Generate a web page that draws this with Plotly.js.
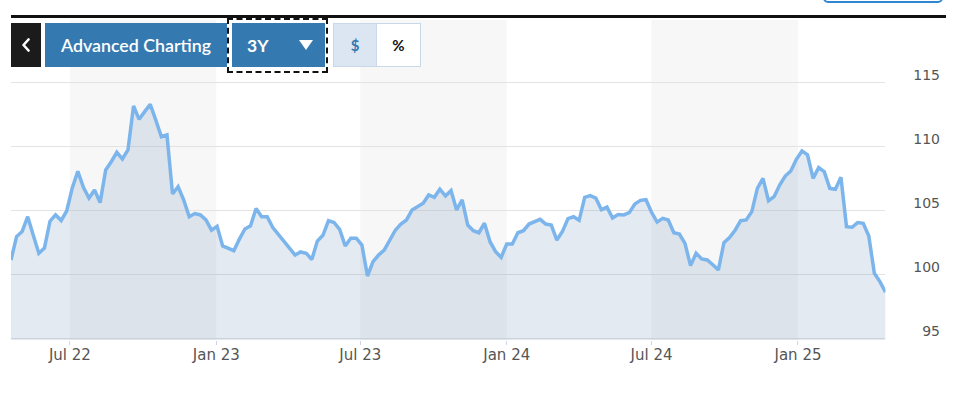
<!DOCTYPE html>
<html>
<head>
<meta charset="utf-8">
<script src="https://cdn.plot.ly/plotly-3.0.1.min.js"></script>
<style>
  html, body { margin:0; padding:0; background:#fff; }
  #wrap { position:relative; width:960px; height:394px; overflow:hidden; }
  #chart { position:absolute; left:0; top:0; width:960px; height:394px; }
  .ui { position:absolute; z-index:10; box-sizing:border-box; display:flex; align-items:center; justify-content:center; font-family:Lato, "Open Sans", sans-serif; }
</style>
</head>
<body>
<div id="wrap">
  <div id="chart"></div>
  <div class="ui" style="left:823px; top:-20px; width:120px; height:23px; border:2px solid #2f86d0; border-radius:5px;"></div>
  <div class="ui" style="left:11px; top:15px; width:935px; height:3px; background:#111;"></div>
  <div class="ui" style="left:11px; top:23px; width:30px; height:44px; background:#1b1b1b;">
    <svg width="10" height="14" viewBox="0 0 10 14"><polyline points="7.5,1.5 2.5,7 7.5,12.5" fill="none" stroke="#fff" stroke-width="2.6" stroke-linecap="round" stroke-linejoin="round"/></svg>
  </div>
  <div class="ui" style="left:45px; top:23px; width:182px; height:44px; background:#3579b1; color:#fff; font-size:17.8px; font-weight:600;">Advanced Charting</div>
  <div class="ui" style="left:227px; top:18px; width:101px; height:55px; border:2px dashed #111;"></div>
  <div class="ui" style="left:232px; top:23px; width:93px; height:44px; background:#3579b1; color:#fff; font-size:17.5px; font-weight:700; justify-content:flex-start;">
    <span style="margin-left:15px;">3Y</span>
    <span style="margin-left:30px; width:0; height:0; border-left:7px solid transparent; border-right:7px solid transparent; border-top:10px solid #fff;"></span>
  </div>
  <div class="ui" style="left:333px; top:23px; width:44px; height:44px; background:#dbe6f2; border:1px solid #c9d9ea; color:#3579b1; font-size:15px; font-weight:700;">$</div>
  <div class="ui" style="left:376px; top:23px; width:45px; height:44px; background:#fff; border:1px solid #c9d9ea; color:#111; font-size:15px; font-weight:700;">%</div>
</div>
<script>
// Weekly closing values, first week starting 2022-04-18
var weekStart = '2022-04-18';
var weekStepMs = 604800000;
var values = [
  101.17, 103.0, 103.4, 104.55, 103.1, 101.7, 102.1, 104.2, 104.7, 104.25,
  105.0, 106.8, 108.1, 106.85, 106.0, 106.64, 105.65, 108.2, 108.85, 109.58,
  109.06, 109.77, 113.2, 112.16, 112.76, 113.33, 112.1, 110.8, 110.94, 106.33,
  106.9, 105.86, 104.55, 104.8, 104.69, 104.3, 103.5, 103.8, 102.27, 102.05,
  101.9, 102.8, 103.6, 103.85, 105.2, 104.55, 104.55, 103.7, 103.2, 102.65,
  102.1, 101.56, 101.8, 101.7, 101.2, 102.65, 103.1, 104.24, 104.1, 103.57,
  102.27, 102.87, 102.87, 102.34, 99.92, 101.04, 101.56, 101.95, 102.73, 103.5,
  103.98, 104.3, 105.08, 105.34, 105.6, 106.25, 106.07, 106.7, 106.17, 106.59,
  105.08, 105.86, 103.9, 103.46, 103.3, 104.04, 102.6, 101.82, 101.38, 102.42,
  102.42, 103.3, 103.46, 103.98, 104.16, 104.35, 103.98, 103.9, 102.73, 103.4,
  104.4, 104.55, 104.27, 106.07, 106.2, 106.0, 105.1, 105.3, 104.45, 104.72,
  104.69, 104.87, 105.55, 105.83, 105.88, 104.9, 104.13, 104.42, 104.3, 103.3,
  103.2, 102.47, 100.73, 101.7, 101.25, 101.17, 100.8, 100.4, 102.53, 102.92,
  103.5, 104.24, 104.3, 104.95, 106.77, 107.55, 105.8, 106.12, 107.03, 107.73,
  108.12, 109.04, 109.69, 109.38, 107.55, 108.38, 108.07, 106.77, 106.7, 107.63,
  103.77, 103.73, 104.09, 104.04, 103.05, 100.13, 99.48, 98.65
];
var xRange = ['2022-04-18', '2025-04-21'];
var yRange = [94.92, 119.92];
var yTicks = [95, 100, 105, 110, 115];
var bandStarts = ['2022-07-01', '2023-07-01', '2024-07-01'];
var bandEnds   = ['2023-01-01', '2024-01-01', '2025-01-01'];

var shapes = bandStarts.map(function (s, i) {
  return { type:'rect', xref:'x', yref:'paper', x0:s, x1:bandEnds[i], y0:0, y1:1,
           fillcolor:'#f7f7f7', line:{width:0}, layer:'below' };
});

var trace = {
  type:'scatter', mode:'lines',
  x0: weekStart, dx: weekStepMs, y: values,
  line:{ color:'#7cb5ec', width:3.5 },
  fill:'tozeroy', fillcolor:'rgba(90,130,180,0.17)',
  hoverinfo:'skip'
};

var layout = {
  width:960, height:394,
  margin:{ l:11, r:17, t:20, b:54, pad:0 },
  paper_bgcolor:'#fff', plot_bgcolor:'rgba(0,0,0,0)',
  showlegend:false,
  shapes: shapes,
  xaxis:{
    type:'date', range:xRange, domain:[0, 0.9383],
    tick0:'2022-07-01', dtick:'M6', tickformat:'%b %y',
    ticks:'outside', ticklen:4, tickcolor:'#ccd6eb', tickwidth:1,
    ticklabelstandoff:-3,
    showgrid:false, zeroline:false, showline:false,
    tickfont:{ family:'"DejaVu Sans", sans-serif', size:15, color:'#555' },
    fixedrange:true
  },
  yaxis:{
    range:yRange, side:'right', anchor:'free', position:1,
    tickmode:'array', tickvals:yTicks, ticktext:yTicks.map(String),
    ticklabelposition:'inside', ticklabelshift:-8, ticks:'',
    showgrid:true, gridcolor:'#e3e3e3', gridwidth:1,
    zeroline:false, showline:false,
    tickfont:{ family:'"DejaVu Sans", sans-serif', size:14, color:'#555' },
    fixedrange:true
  }
};

Plotly.newPlot('chart', [trace], layout, { displayModeBar:false, staticPlot:true });
</script>
</body>
</html>
